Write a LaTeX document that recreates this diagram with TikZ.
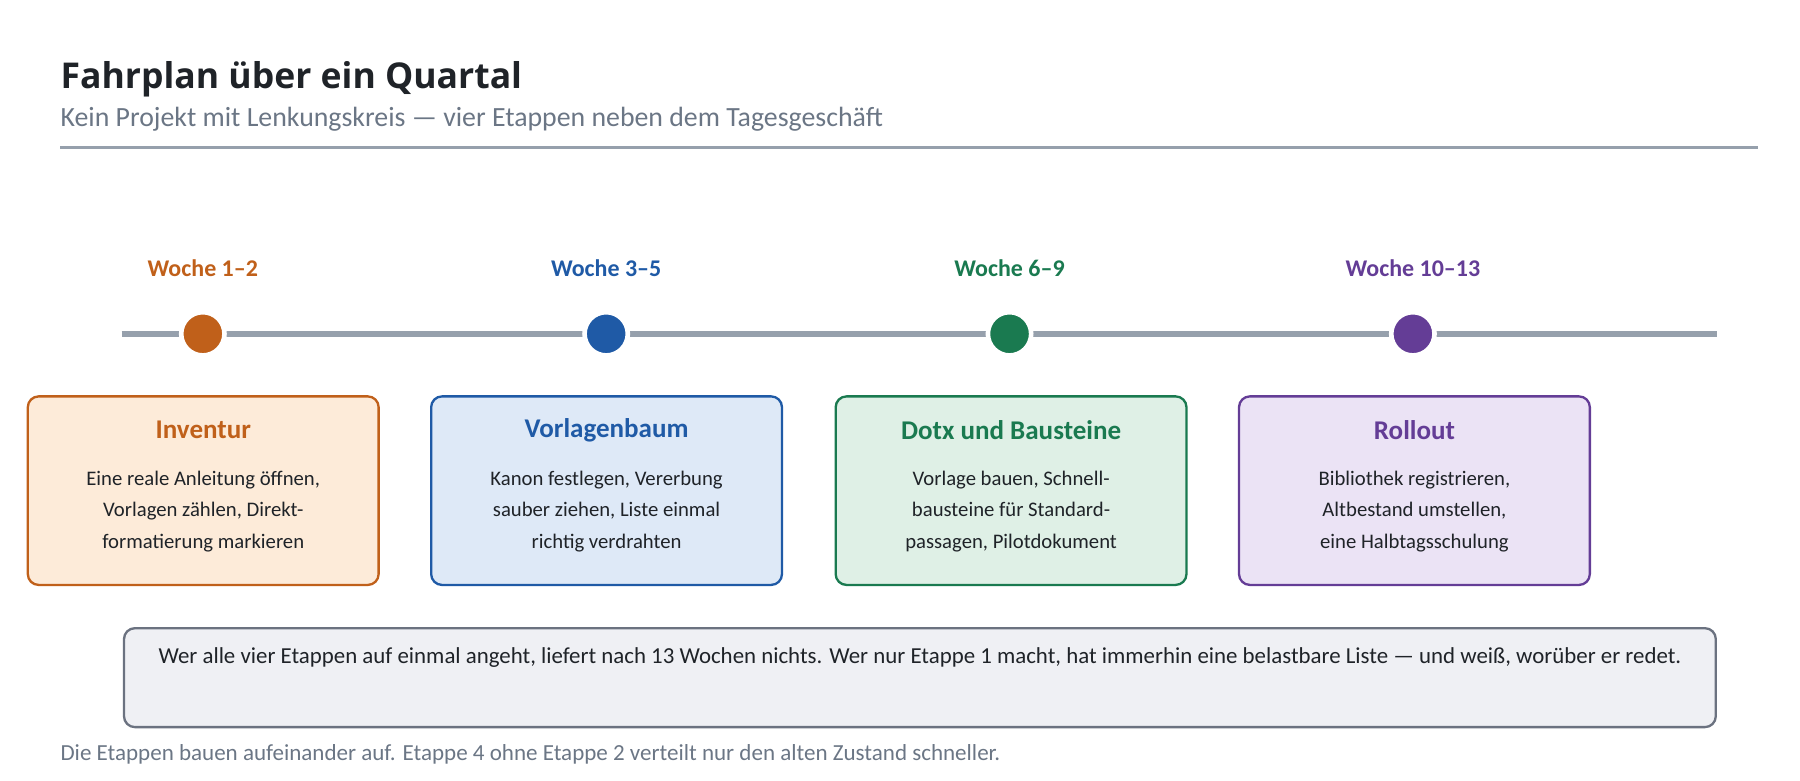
\documentclass[tikz,border=0pt]{standalone}
\usepackage{fontspec}
\setmainfont{Carlito}
\newfontfamily\titlefont{Open Sans}
\begin{document}
\begin{tikzpicture}[x=0.75pt,y=-0.75pt,
  lbl/.style={font=\bfseries\fontsize{15.5}{18}\selectfont,anchor=center},
  card/.style={draw=#1,line width=1.5pt,rounded corners=7pt,minimum width=227pt,minimum height=122pt,anchor=north west,inner sep=0pt},
  ctitle/.style={font=\bfseries\fontsize{17.5}{20}\selectfont,text=#1},
  cbody/.style={font=\fontsize{13.4}{20.3}\selectfont,align=center,text=ink},
  dot/.style={circle,fill=#1,draw=white,line width=3pt,minimum size=28pt,inner sep=0pt}]
\definecolor{ink}{HTML}{1F2328}
\definecolor{sub}{HTML}{6B7685}
\definecolor{rule}{HTML}{96A0AC}
\definecolor{cO}{HTML}{C0601A}\definecolor{fO}{HTML}{FDEBD9}
\definecolor{cB}{HTML}{1F5AA6}\definecolor{fB}{HTML}{DEE9F7}
\definecolor{cG}{HTML}{1A7A50}\definecolor{fG}{HTML}{DFF0E6}
\definecolor{cP}{HTML}{643D96}\definecolor{fP}{HTML}{EBE3F5}
\definecolor{callf}{HTML}{EFF0F4}\definecolor{calld}{HTML}{6B7280}
\useasboundingbox (0,0) rectangle (1553,673);
\node[anchor=base west,inner sep=0pt,font=\titlefont\bfseries\fontsize{23}{28}\selectfont,text=ink] (title) at (52,76) {Fahrplan über ein Quartal};
\node[anchor=west,inner sep=0pt,font=\fontsize{18}{20}\selectfont,text=sub] (subtitle) at (52,103) {Kein Projekt mit Lenkungskreis — vier Etappen neben dem Tagesgeschäft};
\coordinate (r1) at (52,127); \coordinate (r2) at (1517,127);
\draw[rule,line width=2pt] (r1) -- (r2);
\coordinate (t0) at (105,288); \coordinate (t1) at (1481,288);
\draw[rule,line width=4pt] (t0) -- (t1);
\foreach \x/\c/\w/\n in {175/cO/Woche 1–2/a,523/cB/Woche 3–5/b,871/cG/Woche 6–9/c,1219/cP/Woche 10–13/d}{
  \node[lbl,text=\c] (w\n) at (\x,231) {\w};
  \node[dot=\c] (d\n) at (\x,288) {};
}
\foreach \x/\c/\f/\t/\b/\n in {
  23/cO/fO/Inventur/{Eine reale Anleitung öffnen,\\Vorlagen zählen, Direkt-\\formatierung markieren}/a,
  371/cB/fB/Vorlagenbaum/{Kanon festlegen, Vererbung\\sauber ziehen, Liste einmal\\richtig verdrahten}/b,
  720/cG/fG/Dotx und Bausteine/{Vorlage bauen, Schnell-\\bausteine für Standard-\\passagen, Pilotdokument}/c,
  1068/cP/fP/Rollout/{Bibliothek registrieren,\\Altbestand umstellen,\\eine Halbtagsschulung}/d}{
  \node[card=\c,fill=\f] (k\n) at (\x,341) {};
  \node[ctitle=\c] (kt\n) at ([yshift=-22.5pt]k\n.north) {\t};
  \node[cbody,anchor=north] (kb\n) at ([yshift=-45.5pt]k\n.north) {\b};
}
\node[draw=calld,fill=callf,line width=1.5pt,rounded corners=7pt,minimum width=1030pt,minimum height=64pt,anchor=north west,inner sep=0pt] (call) at (106,541) {};
\node[font=\fontsize{14.8}{16}\selectfont,text=ink] (calltext) at ([yshift=-19.5pt]call.north) {Wer alle vier Etappen auf einmal angeht, liefert nach 13 Wochen nichts. Wer nur Etappe 1 macht, hat immerhin eine belastbare Liste — und weiß, worüber er redet.};
\node[anchor=west,inner sep=0pt,font=\fontsize{14.9}{16}\selectfont,text=sub] (foot) at (52,651) {Die Etappen bauen aufeinander auf. Etappe 4 ohne Etappe 2 verteilt nur den alten Zustand schneller.};
\end{tikzpicture}
\end{document}
